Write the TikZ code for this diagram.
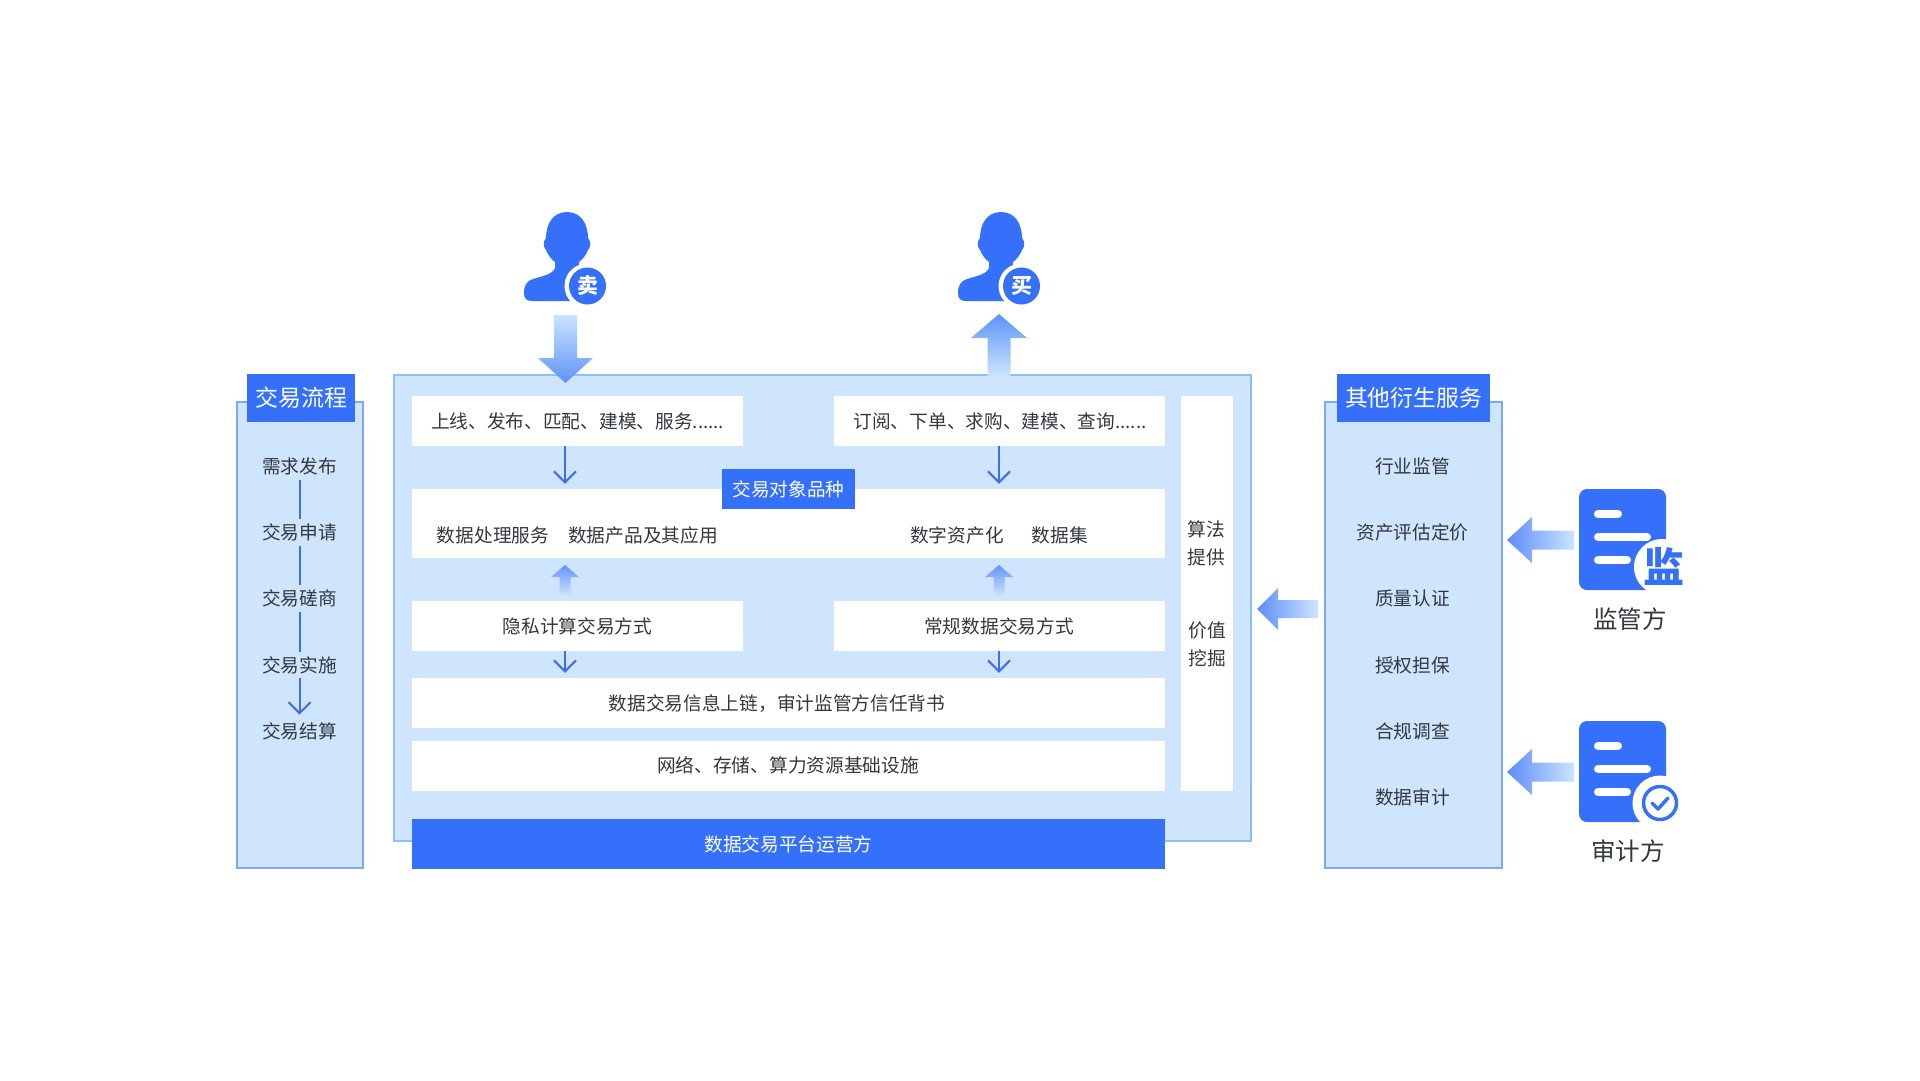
\documentclass[tikz,border=0pt]{standalone}
\usepackage{fontspec}
\setmainfont{Noto Sans CJK SC}
\usetikzlibrary{arrows.meta}
\definecolor{mainblue}{HTML}{3570FA}
\definecolor{panelblue}{HTML}{CEE5FD}
\definecolor{edgeblue}{HTML}{8CC0F6}
\definecolor{sideedge}{HTML}{7BAAEE}
\definecolor{arrowblue}{HTML}{3F6FE4}
\definecolor{bodygray}{HTML}{333840}
\begin{document}
\begin{tikzpicture}[x=1pt,y=-1pt,
                    line join=miter,
                    ]
    \tikzstyle{panel}=[draw=edgeblue,fill=panelblue,line width=2.5pt]
    \tikzstyle{sidepanel}=[panel,draw=sideedge]
    \tikzstyle{whitebox}=[fill=white]
    \tikzstyle{bluebox}=[fill=mainblue]
    \tikzstyle{body}=[text=bodygray,font=\fontsize{18.7}{24}\selectfont,inner sep=0pt]
    \tikzstyle{stepname}=[body,inner ysep=4.5pt]
    \tikzstyle{banner}=[text=white,inner sep=0pt]
    \tikzstyle{flowline}=[draw=arrowblue,line width=2pt]
    \tikzstyle{flowarrow}=[flowline,-{Straight Barb[length=11pt,width=23pt,angle'=90]}]
    \tikzstyle{badge}=[circle,fill=mainblue,minimum size=37pt,inner sep=0pt,text=white,font=\fontsize{21}{21}\selectfont\bfseries]

    \useasboundingbox (0,0) rectangle (1920,1080);
    \fill[white] (0,0) rectangle (1920,1080);

    % outer panels
    \path[sidepanel] (237,402) rectangle (363,868);
    \path[sidepanel] (1325,402) rectangle (1502,868);
    \path[panel] (394,375) rectangle (1251,841);
    \node[bluebox,minimum width=108pt,minimum height=48pt,inner sep=0pt] (flowtitlebox) at (301,398) {};
    \node[banner,font=\fontsize{23}{23}\selectfont] (flowtitle) at (301,398) {交易流程};
    \node[bluebox,minimum width=153pt,minimum height=48pt,inner sep=0pt] (servicetitlebox) at (1413.5,398) {};
    \node[banner,font=\fontsize{22.8}{23}\selectfont] (servicetitle) at (1413.5,398) {其他衍生服务};

    % white boxes
    \coordinate (sellaxis) at (565,0);
    \coordinate (buyaxis) at (999,0);
    \node[whitebox,minimum width=331pt,minimum height=50pt,inner sep=0pt] (sellbox) at (577.5,421) {};
    \node[whitebox,minimum width=331pt,minimum height=50pt,inner sep=0pt] (buybox) at (999.5,421) {};
    \node[whitebox,minimum width=753pt,minimum height=69pt,inner sep=0pt] (itembox) at (788.5,523.5) {};
    \node[whitebox,minimum width=331pt,minimum height=50pt,inner sep=0pt] (privatebox) at (577.5,626) {};
    \node[whitebox,minimum width=331pt,minimum height=50pt,inner sep=0pt] (normalbox) at (999.5,626) {};
    \node[whitebox,minimum width=753pt,minimum height=50pt,inner sep=0pt] (chainbox) at (788.5,703) {};
    \node[whitebox,minimum width=753pt,minimum height=50pt,inner sep=0pt] (basebox) at (788.5,766) {};
    \node[whitebox,minimum width=52pt,minimum height=395pt,inner sep=0pt] (sidebox) at (1207,593.5) {};
    \node[bluebox,minimum width=753pt,minimum height=50pt,inner sep=0pt] (operatorbox) at (788.5,844) {};
    \node[bluebox,minimum width=133pt,minimum height=40pt,inner sep=0pt] (itemtitlebox) at (788.5,489) {};

    % texts of the main panel
    \node[body] (selltext) at (577.5,421) {上线、发布、匹配、建模、服务......};
    \node[body] (buytext) at (1000,421) {订阅、下单、求购、建模、查询......};
    \node[banner,font=\fontsize{18.6}{19}\selectfont] (itemtitle) at (788.5,489) {交易对象品种};
    \node[body] (itema) at (493,535.5) {数据处理服务};
    \node[body] (itemb) at (643,535.5) {数据产品及其应用};
    \node[body] (itemc) at (957,535.5) {数字资产化};
    \node[body] (itemd) at (1060,535.5) {数据集};
    \node[body] (privatetext) at (577.5,626) {隐私计算交易方式};
    \node[body] (normaltext) at (999,626) {常规数据交易方式};
    \node[body] (chaintext) at (777,704) {数据交易信息上链，审计监管方信任背书};
    \node[body] (basetext) at (788,765.5) {网络、存储、算力资源基础设施};
    \node[banner,font=\fontsize{18.7}{19}\selectfont] (operatortext) at (788.5,844) {数据交易平台运营方};
    \node[body,align=center,font=\fontsize{18.7}{28}\selectfont] (algotext) at (1206,543.5) {算法\\提供};
    \node[body,align=center,font=\fontsize{18.7}{28}\selectfont] (valuetext) at (1207,644) {价值\\挖掘};

    % flow inside the main panel
    \draw[flowarrow,shorten >=5pt] (sellbox.south -| sellaxis) -- (itembox.north -| sellaxis);
    \draw[flowarrow,shorten >=5pt] (buybox.south -| buyaxis) -- (itembox.north -| buyaxis);
    \draw[flowarrow,shorten >=5pt] (privatebox.south -| sellaxis) -- (chainbox.north -| sellaxis);
    \draw[flowarrow,shorten >=5pt] (normalbox.south -| buyaxis) -- (chainbox.north -| buyaxis);
    \foreach \x in {565,999} {
        \shade[top color=mainblue!70!panelblue,bottom color=panelblue]
            (\x,565) -- (\x+14,577) -- (\x+5.5,577) -- (\x+5.5,596) -- (\x-5.5,596) -- (\x-5.5,577) -- (\x-14,577) -- cycle;
    }

    % left column
    \foreach \y/\t/\n in {466.5/需求发布/stepa,532.5/交易申请/stepb,598.5/交易磋商/stepc,665/交易实施/stepd,731/交易结算/stepe} {
        \node[stepname] (\n) at (299.5,\y) {\t};
    }
    \draw[flowline] (stepa) -- (stepb);
    \draw[flowline] (stepb) -- (stepc);
    \draw[flowline] (stepc) -- (stepd);
    \draw[flowarrow,shorten >=3pt] (stepd) -- (stepe);

    % right column
    \foreach \y/\t/\n in {466.5/行业监管/servea,532.5/资产评估定价/serveb,598.5/质量认证/servec,665.5/授权担保/served,731/合规调查/servee,797/数据审计/servef} {
        \node[body] (\n) at (1412.5,\y) {\t};
    }

    % seller and buyer
    \foreach \x/\t/\n in {0/卖/sellbadge,434/买/buybadge} {
        \begin{scope}[xshift=\x pt]
            \fill[mainblue] (567,212) .. controls (581,212) and (588,224) .. (588,238)
                .. controls (591,241) and (591,247) .. (588,250)
                .. controls (586,255) and (583,259) .. (579,262)
                -- (579,268) -- (592,276) -- (592,301) -- (532,301)
                .. controls (526,301) and (524,298) .. (524,293)
                .. controls (524,285) and (527,281) .. (533,279)
                .. controls (543,276) and (553,274) .. (555,268)
                -- (555,262) .. controls (551,259) and (548,255) .. (546,250)
                .. controls (543,247) and (543,241) .. (546,238)
                .. controls (546,224) and (553,212) .. (567,212) -- cycle;
            \fill[white] (587,286) circle (22.5);
            \node[badge] (\n) at (587.5,286) {\t};
        \end{scope}
    }

    % big arrows
    \shade[top color=blue!12!white!90!cyan,bottom color=mainblue!55!edgeblue]
        (554,315) -- (577,315) -- (577,358) -- (593,358) -- (565.5,383) -- (538,358) -- (554,358) -- cycle;
    \shade[top color=mainblue!55!edgeblue,bottom color=panelblue]
        (999,314) -- (1027,338) -- (1010.5,338) -- (1010.5,377) -- (987.5,377) -- (987.5,338) -- (971,338) -- cycle;
    \shade[left color=mainblue!80!white,right color=panelblue]
        (1257,609) -- (1278,588) -- (1278,600) -- (1318,600) -- (1318,618) -- (1278,618) -- (1278,630) -- cycle;
    \foreach \y in {540,772} {
        \shade[left color=mainblue!80!white,right color=blue!12!white!90!cyan]
            (1507,\y) -- (1532,\y-23) -- (1532,\y-9.5) -- (1574,\y-9.5) -- (1574,\y+9.5) -- (1532,\y+9.5) -- (1532,\y+23) -- cycle;
    }

    % document icons
    \foreach \y in {489,721} {
        \fill[mainblue,rounded corners=8pt] (1579,\y) rectangle (1666,\y+101);
        \draw[white,line width=8pt,line cap=round] (1598,\y+25) -- (1618,\y+25);
        \draw[white,line width=8pt,line cap=round] (1598,\y+48) -- (1647,\y+48);
        \draw[white,line width=8pt,line cap=round] (1598,\y+71) -- (1627,\y+71);
    }
    \fill[white] (1662,567) circle (28);
    \fill[white] (1660,803) circle (27.5);
    \node[text=mainblue,font=\fontsize{41}{41}\selectfont\bfseries,inner sep=0pt] (watchmark) at (1664,566) {监};
    \draw[mainblue,line width=3.5pt] (1660,803) circle (16.5);
    \draw[mainblue,line width=3.5pt,line cap=round,line join=round] (1652,803) -- (1658,809) -- (1668,798);
    \node[body,font=\fontsize{24.5}{25}\selectfont] (watchtext) at (1630,619) {监管方};
    \node[body,font=\fontsize{24.5}{25}\selectfont] (audittext) at (1628,851.5) {审计方};
\end{tikzpicture}
\end{document}
